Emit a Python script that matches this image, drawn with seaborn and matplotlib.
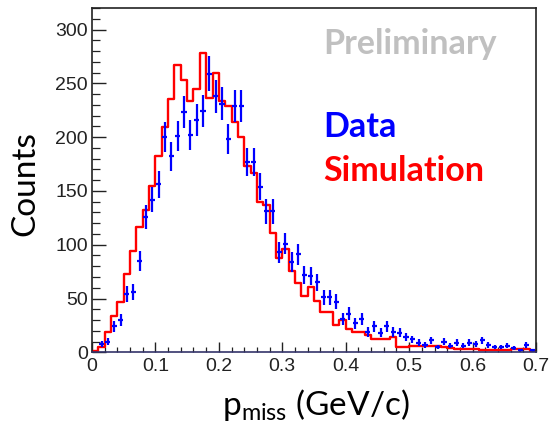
import numpy as np
import pandas as pd
import matplotlib
matplotlib.use("Agg")
import matplotlib.pyplot as plt
import seaborn as sns
from matplotlib.ticker import MultipleLocator

# ---- data (70 bins of 0.01 GeV/c from 0 to 0.7) ----
bin_width = 0.01
data_counts = [0, 8, 10, 24, 30, 54, 56, 85, 126, 142,
               156, 200, 182, 201, 223, 202, 216, 224, 259, 238,
               231, 198, 229, 229, 177, 177, 154, 131, 131, 93,
               101, 84, 91, 72, 71, 65, 51, 51, 47, 31,
               36, 27, 31, 19, 24, 18, 24, 19, 18, 14,
               12, 9, 7, 11, 5, 10, 6, 9, 6, 9,
               8, 11, 7, 5, 5, 6, 4, 2, 7, 2]
sim_counts = [1, 5, 19, 34, 47, 73, 94, 116, 132, 155,
              182, 209, 235, 267, 253, 234, 245, 278, 236, 260,
              234, 229, 214, 200, 173, 167, 140, 137, 111, 88,
              96, 76, 64, 52, 61, 48, 37, 37, 25, 30,
              22, 19, 19, 16, 12, 12, 12, 14, 5, 5,
              6, 6, 6, 6, 6, 5, 4, 3, 3, 3,
              3, 2, 2, 2, 2, 2, 3, 3, 3, 1.5]
y_ticks = [0, 50, 100, 150, 200, 250, 300]
x_ticks = [0, 0.1, 0.2, 0.3, 0.4, 0.5, 0.6, 0.7]
x_tick_labels = ["0", "0.1", "0.2", "0.3", "0.4", "0.5", "0.6", "0.7"]

centers = (np.arange(len(sim_counts)) + 0.5) * bin_width
df = pd.DataFrame({"p": centers, "data": data_counts, "sim": sim_counts})

sns.set_theme(style="white")
plt.rcParams["font.family"] = ["Liberation Sans", "DejaVu Sans"]
plt.rcParams["mathtext.fontset"] = "custom"
plt.rcParams["mathtext.rm"] = "Lato"

fig = plt.figure(figsize=(5.49, 4.30), dpi=100)
W, H = 549, 430
ax = fig.add_axes([92 / W, 1 - 352.3 / H, (536 - 92) / W, (352.3 - 8) / H])

# simulation histogram outline
sns.histplot(data=df, x="p", weights="sim", binwidth=bin_width,
             binrange=(0, len(sim_counts) * bin_width), element="step",
             fill=False, color="#ff0000", linewidth=1.7, ax=ax)

# data points with errors
d = df[df["data"] > 0]
ax.errorbar(d["p"], d["data"], yerr=np.sqrt(d["data"]), xerr=0.004,
            fmt="none", ecolor="#0000ff", elinewidth=1.6, capsize=0)

ax.set_xlim(0, 0.7)
ax.set_ylim(0, 320)
ax.set_xticks(x_ticks)
ax.set_xticklabels(x_tick_labels)
ax.set_yticks(y_ticks)
ax.xaxis.set_minor_locator(MultipleLocator(0.02))
ax.yaxis.set_minor_locator(MultipleLocator(10))
ax.tick_params(axis="y", which="major", direction="in", length=10, width=1.0,
               labelsize=14, pad=3, colors="#222222")
ax.tick_params(axis="y", which="minor", direction="in", length=5.8, width=0.9,
               colors="#222222")
ax.tick_params(axis="x", which="major", direction="in", length=7, width=1.0,
               labelsize=14, pad=4, colors="#222222")
ax.tick_params(axis="x", which="minor", direction="in", length=3.6, width=0.9,
               colors="#222222")
ax.tick_params(left=True, bottom=True, which="both")
for s in ax.spines.values():
    s.set_color("#222222")
    s.set_linewidth(1.2)
ax.spines["bottom"].set_color("#33336a")

ax.set_xlabel("")
ax.set_ylabel("")
fig.text(25 / W, 1 - 184 / H, "Counts", rotation=90, ha="center", va="center",
         fontsize=24, family="Lato", color="black")
fig.text(316 / W, 1 - 405 / H, r"p$_{\mathrm{miss}}$ (GeV/c)", ha="center",
         va="center", fontsize=24, family="Lato", color="black")

fig.text(497 / W, 1 - 54.5 / H, "Preliminary", ha="right", va="baseline",
         fontsize=24.5, family="Lato", weight="bold", color="#c0c0c0")
fig.text(323 / W, 1 - 136.7 / H, "Data", ha="left", va="baseline",
         fontsize=24.5, family="Lato", weight="bold", color="#0000ff")
fig.text(323 / W, 1 - 180.7 / H, "Simulation", ha="left", va="baseline",
         fontsize=24.5, family="Lato", weight="bold", color="#ff0000")

fig.savefig("out.png", dpi=100)
